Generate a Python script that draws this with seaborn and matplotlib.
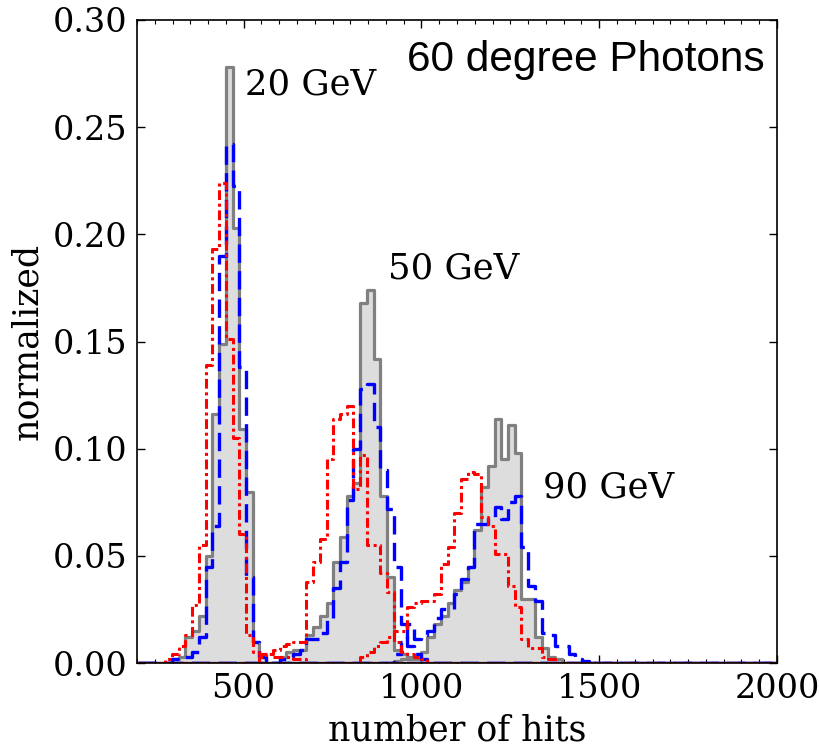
import numpy as np
import pandas as pd
import matplotlib
matplotlib.use("Agg")
import matplotlib.pyplot as plt
import seaborn as sns
from matplotlib.ticker import MultipleLocator, FormatStrFormatter

# ---------------- data (normalized fraction of events per bin) ----------------
BIN_START = 204.0      # left edge of first bin (number of hits)
BIN_WIDTH = 18.9       # bin width (number of hits)
N_BINS = 96

# each histogram: index of first listed bin + heights
gray_20_first = 5
gray_20 = [0.002, 0.003, 0.012, 0.015, 0.022, 0.050, 0.116, 0.149, 0.278,
           0.203, 0.109, 0.080, 0.010, 0.004]
blue_20_first = 5
blue_20 = [0.002, 0.003, 0.003, 0.005, 0.012, 0.045, 0.064, 0.190, 0.242,
           0.2225, 0.138, 0.040, 0.010, 0.003]
red_20_first = 4
red_20 = [0.002, 0.004, 0.008, 0.013, 0.027, 0.055, 0.139, 0.193, 0.224,
          0.151, 0.105, 0.060, 0.013, 0.005, 0.004, 0.004, 0.003, 0.003,
          0.003, 0.002, 0.002]

gray_50_first = 21
gray_50 = [0.003, 0.005, 0.006, 0.006, 0.013, 0.017, 0.022, 0.028, 0.047,
           0.059, 0.078, 0.084, 0.168, 0.174, 0.142, 0.078, 0.040, 0.006,
           0.004, 0.003, 0.002]
blue_50_first = 21
blue_50 = [0.002, 0.003, 0.004, 0.006, 0.011, 0.011, 0.014, 0.020, 0.035,
           0.047, 0.076, 0.100, 0.128, 0.130, 0.110, 0.090, 0.072, 0.045,
           0.018, 0.008, 0.004, 0.002]
red_50_first = 18
red_50 = [0.003, 0.004, 0.006, 0.008, 0.009, 0.010, 0.010, 0.038, 0.047,
          0.058, 0.095, 0.114, 0.116, 0.120, 0.081, 0.097, 0.055, 0.055,
          0.042, 0.033, 0.010, 0.005, 0.004, 0.003, 0.002]

gray_90_first = 38
gray_90 = [0.001, 0.002, 0.002, 0.003, 0.005, 0.012, 0.018, 0.022, 0.028,
           0.034, 0.038, 0.045, 0.062, 0.082, 0.092, 0.114, 0.095, 0.111,
           0.098, 0.030, 0.030, 0.012, 0.007, 0.003, 0.002]
blue_90_first = 38
blue_90 = [0.004, 0.010, 0.018, 0.011, 0.013, 0.015, 0.021, 0.025, 0.025,
           0.032, 0.039, 0.045, 0.065, 0.065, 0.068, 0.073, 0.067, 0.075,
           0.078, 0.054, 0.036, 0.029, 0.014, 0.013, 0.008, 0.008, 0.004,
           0.002, 0.001]
red_90_first = 33
red_90 = [0.003, 0.005, 0.008, 0.010, 0.012, 0.015, 0.015, 0.026, 0.028,
          0.029, 0.029, 0.032, 0.046, 0.054, 0.070, 0.086, 0.089, 0.088,
          0.068, 0.064, 0.051, 0.051, 0.036, 0.026, 0.011, 0.007, 0.007,
          0.003, 0.002]

energy_labels = ["20 GeV", "50 GeV", "90 GeV"]
label_x = [504, 906, 1342]
label_y = [0.270, 0.184, 0.082]
title_text = "60 degree Photons"

# ---------------- build ----------------
edges = BIN_START + BIN_WIDTH * np.arange(N_BINS + 1)
centers = 0.5 * (edges[:-1] + edges[1:])
bin_list = [float(e) for e in edges]


def full(first, vals):
    arr = np.zeros(N_BINS)
    arr[first:first + len(vals)] = vals
    return pd.DataFrame({"hits": centers, "w": arr})


gray = [full(gray_20_first, gray_20), full(gray_50_first, gray_50), full(gray_90_first, gray_90)]
blue = [full(blue_20_first, blue_20), full(blue_50_first, blue_50), full(blue_90_first, blue_90)]
red = [full(red_20_first, red_20), full(red_50_first, red_50), full(red_90_first, red_90)]

sns.set_style("ticks")
plt.rcParams.update({
    "font.family": ["DejaVu Serif"],
    "xtick.direction": "in",
    "ytick.direction": "in",
    "xtick.top": True,
    "ytick.right": True,
    "axes.edgecolor": "black",
    "axes.linewidth": 1.2,
    "xtick.color": "black",
    "ytick.color": "black",
    "text.color": "black",
    "axes.labelcolor": "black",
})

fig = plt.figure(figsize=(8.19, 7.49), dpi=100)
ax = fig.add_axes([137 / 819, 86 / 749, 640 / 819, 643 / 749])

for df in gray:
    sns.histplot(data=df, x="hits", weights="w", bins=bin_list, element="step",
                 fill=True, facecolor="#dddddd", edgecolor="none", linewidth=0,
                 alpha=1, ax=ax)
for df in gray:
    sns.histplot(data=df, x="hits", weights="w", bins=bin_list, element="step",
                 fill=False, color="#808080", linewidth=2.3, ax=ax)
for df in blue:
    sns.histplot(data=df, x="hits", weights="w", bins=bin_list, element="step",
                 fill=False, color="#0000ff", linewidth=2.4,
                 linestyle=(0, (5.5, 2.5)), ax=ax)
for df in red:
    sns.histplot(data=df, x="hits", weights="w", bins=bin_list, element="step",
                 fill=False, color="#ff0000", linewidth=2.2,
                 linestyle=(0, (3.2, 1.2, 1, 1.2)), ax=ax)

ax.set_xlim(200, 2000)
ax.set_ylim(0, 0.30)
ax.set_xticks([500, 1000, 1500, 2000])
ax.xaxis.set_minor_locator(MultipleLocator(50))
ax.set_yticks(np.arange(0, 0.301, 0.05))
ax.yaxis.set_major_formatter(FormatStrFormatter("%.2f"))
ax.tick_params(which="major", length=6, width=1, labelsize=24, pad=7,
               top=True, right=True, direction="in")
ax.tick_params(which="minor", length=3, width=0.8, top=True,
               direction="in")
ax.tick_params(axis="y", which="minor", left=False, right=False)

ax.set_xlabel("number of hits", fontsize=25, labelpad=6)
ax.set_ylabel("normalized", fontsize=25, labelpad=6)

for txt, x, y in zip(energy_labels, label_x, label_y):
    ax.text(x, y, txt, fontsize=25.5, ha="left", va="center")

ax.text(0.981, 0.938, title_text, transform=ax.transAxes, ha="right",
        va="center", fontsize=30.5, family=["Liberation Sans", "DejaVu Sans"])

fig.savefig("out.png", dpi=100)
